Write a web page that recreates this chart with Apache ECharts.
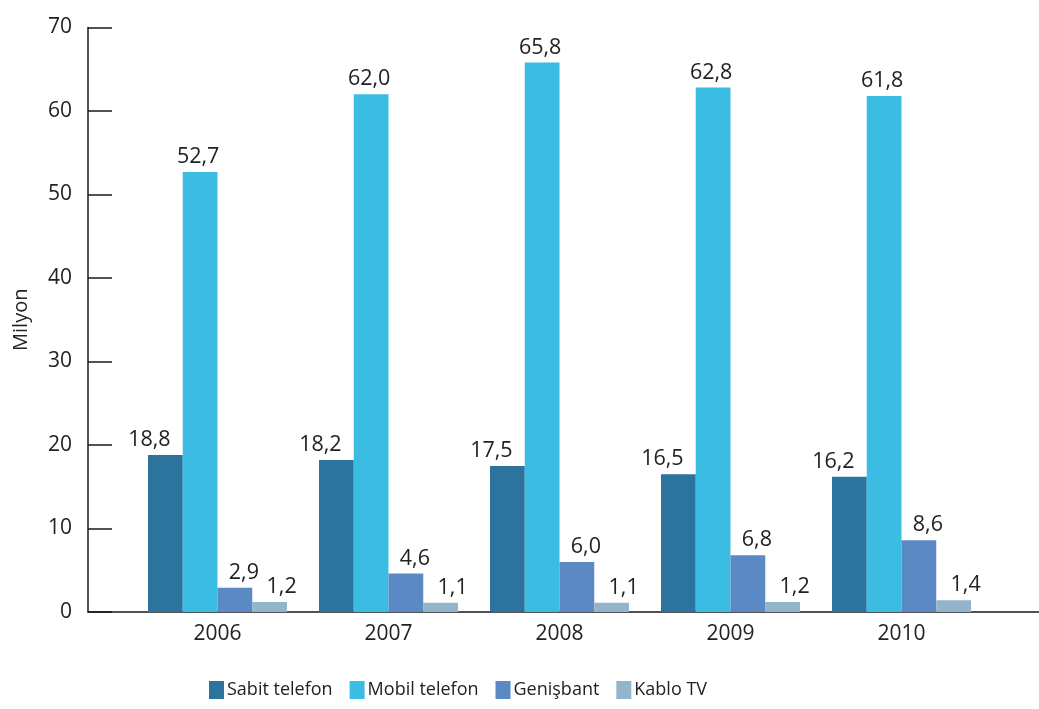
<!DOCTYPE html>
<html>
<head>
<meta charset="utf-8">
<script src="https://cdn.jsdelivr.net/npm/echarts@6/dist/echarts.min.js"></script>
<style>html,body{margin:0;padding:0;background:#fff;}#c{width:1039px;height:709px;}</style>
</head>
<body>
<div id="c"></div>
<script>
const years = ['2006', '2007', '2008', '2009', '2010'];
const seriesNames = ['Sabit telefon', 'Mobil telefon', 'Genişbant', 'Kablo TV'];
const sabit = [18.8, 18.2, 17.5, 16.5, 16.2];
const mobil = [52.7, 62.0, 65.8, 62.8, 61.8];
const genisbant = [2.9, 4.6, 6.0, 6.8, 8.6];
const kablo = [1.2, 1.1, 1.1, 1.2, 1.4];
const yTicks = [0, 10, 20, 30, 40, 50, 60, 70];

const colors = ['#2C739E', '#3BBCE2', '#5A89C4', '#92B5CC'];
const labelOffsets = [[-16, 0], [-2, 0], [9, 0], [12, 0]];
const font = '"Open Sans", "Noto Sans", sans-serif';
const txt = '#222';

const chart = echarts.init(document.getElementById('c'), null, {renderer: 'canvas'});
const dataSets = [sabit, mobil, genisbant, kablo];

const option = {
  animation: false,
  textStyle: {fontFamily: font},
  color: colors,
  legend: {
    left: 204, top: 676,
    itemWidth: 15, itemHeight: 18, itemGap: 17,
    icon: 'rect',
    textStyle: {fontSize: 18, color: txt, fontFamily: font, padding: [0, 0, 0, -2]},
    data: seriesNames
  },
  grid: [
    {left: 88, right: 0, top: 27.5, bottom: 97},
    {left: 132, right: 52, top: 27.5, bottom: 97}
  ],
  xAxis: [
    {type: 'value', gridIndex: 0, min: 0, max: 1,
     axisLine: {show: true, onZero: false, lineStyle: {color: '#1a1a1a', width: 1.5}},
     axisTick: {show: false}, axisLabel: {show: false}, splitLine: {show: false}},
    {type: 'category', gridIndex: 1, data: years,
     axisLine: {show: false}, axisTick: {show: false},
     axisLabel: {fontSize: 21, color: txt, margin: 12, fontFamily: font}}
  ],
  yAxis: [
    {type: 'value', gridIndex: 0, min: yTicks[0], max: yTicks[yTicks.length - 1], interval: 10,
     name: 'Milyon', nameLocation: 'middle', nameRotate: 90, nameGap: 57,
     nameTextStyle: {fontSize: 20, color: txt, fontFamily: font},
     axisLine: {show: true, lineStyle: {color: '#1a1a1a', width: 1.5}},
     axisTick: {show: true, inside: true, length: 24, lineStyle: {color: '#1a1a1a', width: 1.5}},
     axisLabel: {fontSize: 21, color: txt, margin: 16, fontFamily: font},
     splitLine: {show: false}},
    {type: 'value', gridIndex: 1, min: 0, max: 70, show: false}
  ],
  series: dataSets.map((d, i) => ({
    name: seriesNames[i],
    type: 'bar',
    xAxisIndex: 1, yAxisIndex: 1,
    data: d,
    barWidth: 34.75,
    barGap: '0%',
    itemStyle: {color: colors[i]},
    label: {
      show: true, position: 'top', distance: 4,
      offset: labelOffsets[i],
      fontSize: 21.5, color: txt, fontFamily: font,
      formatter: p => p.value.toFixed(1).replace('.', ',')
    }
  }))
};
chart.setOption(option);
</script>
</body>
</html>
